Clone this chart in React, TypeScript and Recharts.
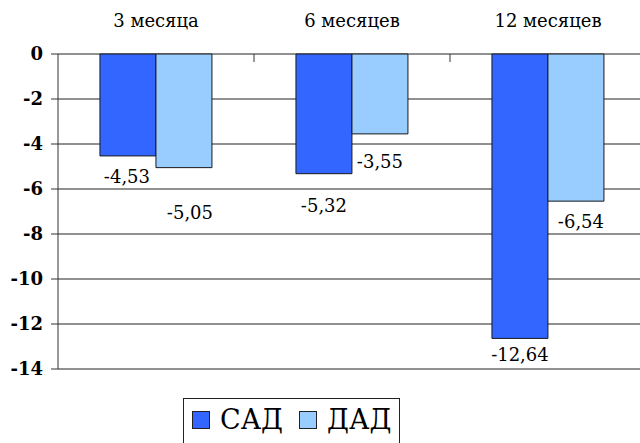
import { BarChart, Bar, XAxis, YAxis, CartesianGrid, LabelList, Legend } from "recharts"

const periods = ["3 месяца", "6 месяцев", "12 месяцев"]
const sadValues = [-4.53, -5.32, -12.64]
const dadValues = [-5.05, -3.55, -6.54]
const yTicks = [0, -2, -4, -6, -8, -10, -12, -14]

// where each data label sits below the end of its bar (px)
const sadLabelShift = [[-1, 21], [0, 32], [0, 16]]
const dadLabelShift = [[6, 45], [0, 28], [5, 21]]

const data = periods.map((p, i) => ({ period: p, sad: sadValues[i], dad: dadValues[i] }))

const SERIF = "DejaVu Serif, Liberation Serif, Times New Roman, serif"
const SAD_COLOR = "#3366ff"
const DAD_COLOR = "#99ccff"
const PLOT_TOP = 54

const fmt = (v: number) => v.toFixed(2).replace(".", ",")

const makeLabel = (shift: number[][]) => (props: any) => {
    const { x, y, width, height, value, index } = props
    const end = Math.max(y, y + height)
    const [dx, dy] = shift[index] || [0, 20]
    return (
        <text x={x + width / 2 + dx} y={end + dy} dy="0.35em" textAnchor="middle"
            style={{ fontFamily: SERIF }} fontSize={18} fill="#000">
            {fmt(value)}
        </text>
    )
}

const PeriodTick = (props: any) => {
    const { x, y, payload, index } = props
    const half = payload.offset || 0
    return (
        <g>
            <text x={x} y={y} textAnchor="middle" style={{ fontFamily: SERIF }} fontSize={18} fill="#000">
                {payload.value}
            </text>
            {index < periods.length - 1 && (
                <line x1={x + half} x2={x + half} y1={PLOT_TOP} y2={PLOT_TOP + 8} stroke="#333" />
            )}
        </g>
    )
}

const LegendBox = () => (
    <div style={{
        display: "flex", alignItems: "center", border: "1px solid #222", background: "#fff",
        padding: "6px 8px 14px 8px", fontFamily: SERIF, fontSize: 27, lineHeight: "30px", color: "#000",
    }}>
        {[["САД", SAD_COLOR], ["ДАД", DAD_COLOR]].map(([name, c], i) => (
            <span key={name} style={{ display: "flex", alignItems: "center", marginLeft: i ? 16 : 0 }}>
                <span style={{ width: 16, height: 16, background: c, border: "1px solid #222", marginRight: 10 }} />
                {name}
            </span>
        ))}
    </div>
)

export default function App() {
    return (
        <div style={{ position: "fixed", left: 0, top: 0, width: 640, height: 443, overflow: "hidden", background: "#fff" }}>
            <BarChart width={660} height={443} data={data}
                margin={{ top: 0, right: 14, bottom: 74, left: 0 }}
                barCategoryGap="21.4%" barGap={0}>
                <CartesianGrid vertical={false} stroke="#222" strokeOpacity={1} />
                <XAxis dataKey="period" orientation="top" height={PLOT_TOP} axisLine={false}
                    tickLine={false} tickSize={0} tickMargin={27} tick={<PeriodTick />} interval={0} />
                <YAxis type="number" domain={[-14, 0]} ticks={yTicks} width={58} interval={0}
                    axisLine={{ stroke: "#333" }} tickLine={{ stroke: "#333" }} tickSize={7} tickMargin={8}
                    tick={{ style: { fontFamily: SERIF }, fontSize: 18, fontWeight: "bold", fill: "#000" }} />
                <Legend layout="horizontal" verticalAlign="middle" align="center" content={<LegendBox />}
                    wrapperStyle={{ position: "absolute", left: 183, top: 398, width: "auto" }} />
                <Bar dataKey="sad" name="САД" fill={SAD_COLOR} stroke="#1a1a1a" strokeWidth={1} isAnimationActive={false}>
                    <LabelList dataKey="sad" content={makeLabel(sadLabelShift)} />
                </Bar>
                <Bar dataKey="dad" name="ДАД" fill={DAD_COLOR} stroke="#1a1a1a" strokeWidth={1} isAnimationActive={false}>
                    <LabelList dataKey="dad" content={makeLabel(dadLabelShift)} />
                </Bar>
            </BarChart>
        </div>
    )
}
